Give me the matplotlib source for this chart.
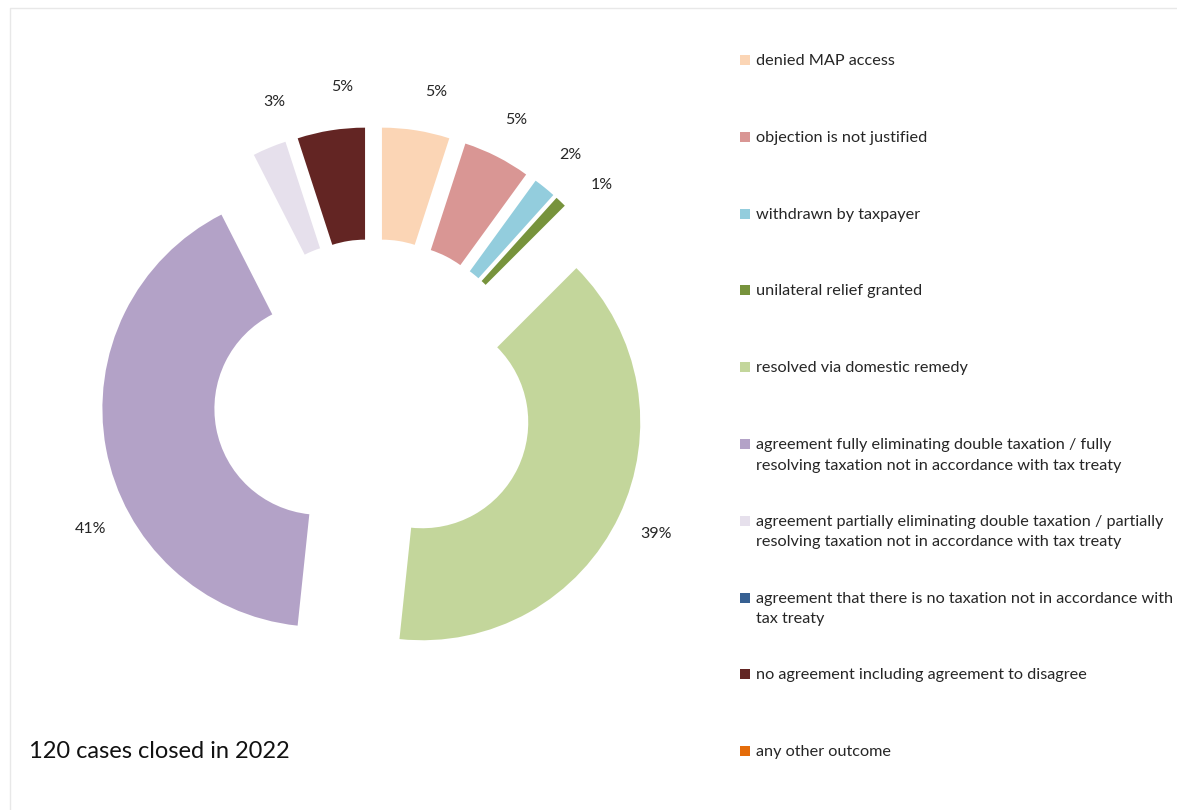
import math
import matplotlib
matplotlib.use("Agg")
import matplotlib.pyplot as plt
from matplotlib.patches import Rectangle

plt.rcParams['font.family'] = ['Lato', 'DejaVu Sans']

# outcome categories, clockwise from 12 o'clock
outcomes = [
    "denied MAP access",
    "objection is not justified",
    "withdrawn by taxpayer",
    "unilateral relief granted",
    "resolved via domestic remedy",
    "agreement fully eliminating double taxation / fully\nresolving taxation not in accordance with tax treaty",
    "agreement partially eliminating double taxation / partially\nresolving taxation not in accordance with tax treaty",
    "agreement that there is no taxation not in accordance with\ntax treaty",
    "no agreement including agreement to disagree",
    "any other outcome",
]
cases = [6, 6, 2, 1, 47, 49, 3, 0, 6, 0]
colors = ["#FBD5B5", "#D99694", "#93CDDD", "#77933C", "#C3D69B",
          "#B3A2C7", "#E6E0EC", "#376092", "#632523", "#E46C0A"]
total_text = "120 cases closed in 2022"

W, H = 1177, 810
fig = plt.figure(figsize=(W / 100, H / 100), dpi=100)
ax = fig.add_axes([0, 0, 1, 1])

# geometry in pixel units (y measured from the bottom)
cx, cy = 373.5, H - 399
R = 218
ring = 112
expl = 54

wedges, _ = ax.pie(cases, explode=[expl] * len(cases), radius=R, center=(cx, cy),
                   startangle=90, counterclock=False, colors=colors,
                   wedgeprops=dict(width=ring, linewidth=0))

ax.set_xlim(0, W)
ax.set_ylim(0, H)
ax.set_aspect('equal')
ax.axis('off')

# percentage labels, outside end
nudge = {5: -17, 3: 4, 0: 3, 8: 4, 6: 5}
tot = sum(cases)
for i, (w, n) in enumerate(zip(wedges, cases)):
    if n == 0:
        continue
    mid = 0.5 * (w.theta1 + w.theta2) - nudge.get(i, 0)
    x0, y0 = w.center
    tx = x0 + 1.19 * R * math.cos(math.radians(mid))
    ty = y0 + 1.19 * R * math.sin(math.radians(mid))
    pct = math.floor(100.0 * n / tot + 0.5)
    ax.text(tx, ty, f"{pct}%", ha='center', va='center', fontsize=11.5, color='#262626')

# legend drawn by hand
ly0, lstep = H - 60, 76.8
for i, (lab, c) in enumerate(zip(outcomes, colors)):
    y = ly0 - i * lstep
    ax.add_patch(Rectangle((740, y - 5), 10, 10, facecolor=c, edgecolor='none'))
    ax.text(756, y + 6, lab, ha='left', va='top', fontsize=11.7, color='#262626',
            linespacing=1.6)

ax.text(29, H - 752, total_text, ha='left', va='center', fontsize=17, color='#111111')

# faint chart border
ax.plot([10, 10, W], [0, H - 8, H - 8], color='#E8E8E8', lw=1)

fig.savefig("out.png", dpi=100)
